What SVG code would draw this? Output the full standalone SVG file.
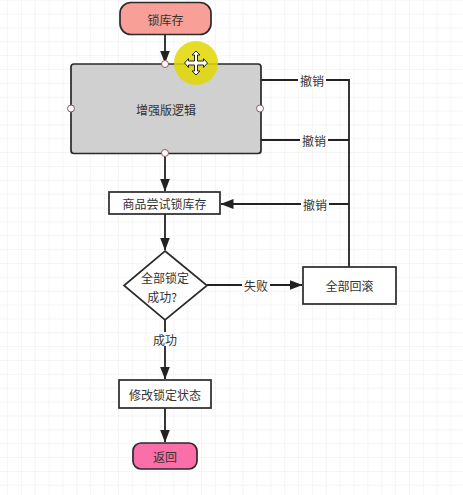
<svg xmlns="http://www.w3.org/2000/svg" width="463" height="495" viewBox="0 0 463 495">
<defs>
<pattern id="grid" x="7" y="13.5" width="13.86" height="13.86" patternUnits="userSpaceOnUse">
<path d="M0 0H13.86M0 0V13.86" fill="none" stroke="#ececec" stroke-width="1"/>
</pattern>
<marker id="arr" markerWidth="13" markerHeight="10" refX="12.5" refY="5" orient="auto" markerUnits="userSpaceOnUse" viewBox="0 0 13 10">
<path d="M0 0L13 5L0 10z" fill="#222"/>
</marker>
<style>
.n{stroke:#2a2a2a;stroke-width:1.7}
.t{font-family:"Noto Sans CJK SC","Liberation Sans",sans-serif;font-size:12px;fill:#333;text-anchor:middle;dominant-baseline:central}
.c{fill:none;stroke:#222;stroke-width:1.8}
.lb{fill:#fff}
.pt{fill:#fff;stroke:#a05060;stroke-width:1}
</style>
</defs>
<rect width="463" height="495" fill="#fff"/>
<rect width="463" height="495" fill="url(#grid)"/>
<g id="connectors">
<path class="c" d="M165 35V63" marker-end="url(#arr)"/>
<path class="c" d="M165 154V191" marker-end="url(#arr)"/>
<path class="c" d="M165 214V250" marker-end="url(#arr)"/>
<path class="c" d="M207 285H302" marker-end="url(#arr)"/>
<path class="c" d="M165 320V379" marker-end="url(#arr)"/>
<path class="c" d="M165 408V442" marker-end="url(#arr)"/>
<path class="c" d="M261 80H349V267"/>
<path class="c" d="M261 140H349"/>
<path class="c" d="M349 204H221" marker-end="url(#arr)"/>
<rect class="lb" x="298" y="73" width="28" height="14"/>
<text class="t" x="312" y="80">撤销</text>
<rect class="lb" x="300" y="133" width="28" height="14"/>
<text class="t" x="314" y="140">撤销</text>
<rect class="lb" x="301" y="197" width="28" height="14"/>
<text class="t" x="315" y="204">撤销</text>
<rect class="lb" x="242" y="278" width="28" height="14"/>
<text class="t" x="256" y="285">失败</text>
<rect class="lb" x="151" y="332" width="28" height="14"/>
<text class="t" x="165" y="339">成功</text>
</g>
<g id="lock">
<rect class="n" x="120" y="2.5" width="91" height="32" rx="11" fill="#f8a097"/>
<text class="t" x="165.5" y="19">锁库存</text>
</g>
<g id="enhanced">
<rect class="n" x="71" y="64" width="190" height="89.5" rx="3" fill="#d0d0d0"/>
<text class="t" x="166" y="109">增强版逻辑</text>
<circle class="pt" cx="165" cy="64" r="3.5"/>
<circle class="pt" cx="71" cy="108.5" r="3.5"/>
<circle class="pt" cx="260" cy="108.5" r="3.5"/>
<circle class="pt" cx="165" cy="153" r="3.5"/>
</g>
<g id="try">
<rect class="n" x="109" y="192" width="111" height="22" fill="#fff"/>
<text class="t" x="164.5" y="203.5">商品尝试锁库存</text>
</g>
<g id="decision">
<path class="n" d="M165 251L207 285.5L165 320L124 285.5z" fill="#fff"/>
<text class="t" x="165" y="277">全部锁定</text>
<text class="t" x="162" y="296">成功?</text>
</g>
<g id="rollback">
<rect class="n" x="303" y="267" width="93" height="37" fill="#fff"/>
<text class="t" x="349.5" y="285.5">全部回滚</text>
</g>
<g id="modify">
<rect class="n" x="119" y="380" width="92" height="28" fill="#fff"/>
<text class="t" x="165" y="394">修改锁定状态</text>
</g>
<g id="return">
<rect class="n" x="133" y="443" width="64" height="26" rx="8" fill="#fa6fa8"/>
<text class="t" x="165" y="456">返回</text>
</g>
<g id="cursor">
<circle cx="196" cy="63" r="22" fill="#e2d800" fill-opacity="0.85"/>
<path d="M196 51l-4 4h2.5v6h-6v-2.5l-4 4.5 4 4.5v-2.5h6v6h-2.5l4 4 4-4h-2.5v-6h6v2.5l4-4.5-4-4.5v2.5h-6v-6h2.5z" fill="#fff" stroke="#222" stroke-width="1"/>
</g>
</svg>
